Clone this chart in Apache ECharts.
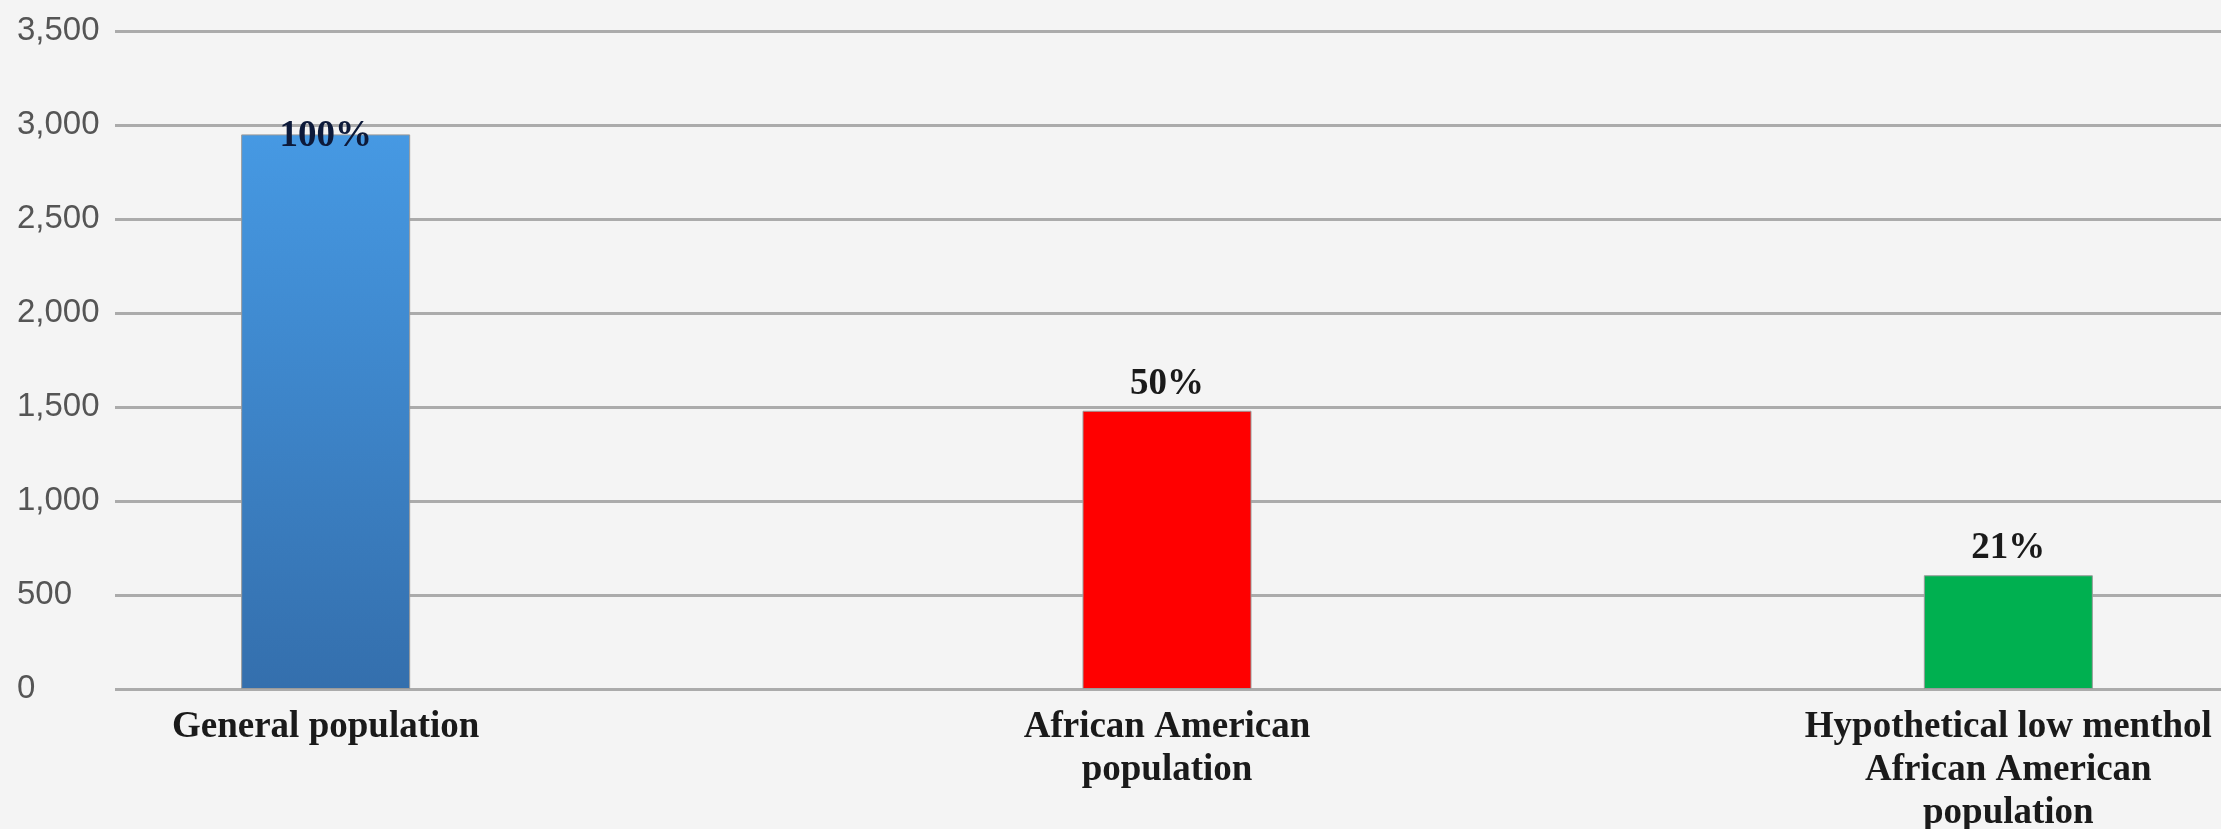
<!DOCTYPE html>
<html>
<head>
<meta charset="utf-8">
<script src="https://cdn.jsdelivr.net/npm/echarts@6/dist/echarts.min.js"></script>
<style>
html,body{margin:0;padding:0;background:#f4f4f4;overflow:hidden;width:2221px;height:829px;}
#chart{width:2524px;height:829px;margin-left:-95px;}
</style>
</head>
<body>
<div id="chart"></div>
<script>
// ---- data ----
const categories = ['General population', 'African American\npopulation', 'Hypothetical low menthol\nAfrican American\npopulation'];
const values = [2950, 1480, 605];
const valueLabels = ['100%', '50%', '21%'];
const yTicks = [0, 500, 1000, 1500, 2000, 2500, 3000, 3500];

const barColors = [
  new echarts.graphic.LinearGradient(0, 0, 0, 1, [
    {offset: 0, color: '#4699E3'},
    {offset: 1, color: '#346FAD'}
  ]),
  '#ff0000',
  '#00b050'
];

const data = values.map((v, i) => ({
  value: v,
  itemStyle: {color: barColors[i]},
  label: i === 0 ? {distance: -21, color: '#0d1a3a'} : {}
}));

const chart = echarts.init(document.getElementById('chart'), null, {renderer: 'canvas'});
chart.setOption({
  backgroundColor: '#f4f4f4',
  animation: false,
  grid: [
    {left: 0, right: 0, top: 31, bottom: 140, containLabel: false, outerBoundsMode: 'none'},
    {left: 210, right: 208, top: 31, bottom: 140, containLabel: false, outerBoundsMode: 'none'}
  ],
  xAxis: [
    {
      type: 'category', gridIndex: 0, data: categories,
      axisLine: {show: false}, axisTick: {show: false},
      axisLabel: {
        interval: 0, margin: 17,
        fontFamily: '"Liberation Serif", "Times New Roman", serif',
        fontWeight: 'bold', fontSize: 37, lineHeight: 43, color: '#1a1a1a'
      }
    },
    {type: 'category', gridIndex: 1, data: categories, show: false}
  ],
  yAxis: [
    {type: 'value', gridIndex: 0, min: 0, max: 3500, interval: 500, show: false, splitLine: {show: false}},
    {
      type: 'value', gridIndex: 1, min: yTicks[0], max: yTicks[yTicks.length - 1], interval: 500,
      axisLine: {show: false}, axisTick: {show: false},
      splitLine: {lineStyle: {color: '#ababab', width: 3}},
      axisLabel: {
        align: 'left', margin: 98, color: '#555555', fontSize: 33,
        fontFamily: '"Liberation Sans", Arial, sans-serif',
        formatter: v => v.toLocaleString('en-US')
      }
    }
  ],
  series: [{
    type: 'bar', xAxisIndex: 0, yAxisIndex: 0,
    barWidth: 169,
    data: data,
    itemStyle: {borderColor: '#9a9a9a', borderWidth: 1},
    label: {
      show: true, position: 'top', distance: 8,
      formatter: p => valueLabels[p.dataIndex],
      fontFamily: '"Liberation Serif", "Times New Roman", serif',
      fontWeight: 'bold', fontSize: 37, color: '#1a1a1a'
    }
  }]
});
</script>
</body>
</html>
